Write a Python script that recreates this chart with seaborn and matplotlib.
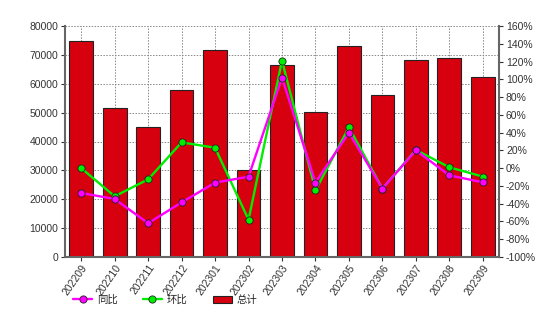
import matplotlib
matplotlib.use("Agg")
import matplotlib.pyplot as plt
import seaborn as sns
import pandas as pd
from matplotlib.lines import Line2D
from matplotlib.patches import Patch

months = ["202209", "202210", "202211", "202212", "202301", "202302", "202303",
          "202304", "202305", "202306", "202307", "202308", "202309"]
total = [74700, 51500, 45000, 58000, 71700, 30000, 66600, 50200, 73200, 56200, 68100, 69000, 62450]
yoy = [-28, -34.7, -62, -38.5, -16.3, -9.6, 102, -16.3, 40, -23, 20, -8, -16]
mom = [0, -31.7, -12.6, 29, 23, -58, 121, -25, 46, -23, 20.5, 1, -9.5]

sns.set_theme(style="white")
plt.rcParams['font.family'] = ['Liberation Sans', 'Noto Sans CJK SC', 'DejaVu Sans']

df = pd.DataFrame({"month": months, "total": total, "yoy": yoy, "mom": mom})

fig = plt.figure(figsize=(5.56, 3.23), dpi=100)
ax = fig.add_axes([65/556, 1-257/323, (499-65)/556, (257-26)/323])

sns.barplot(data=df, x="month", y="total", ax=ax, color="#D7000F", width=0.71,
            edgecolor="#222222", linewidth=0.8, saturation=1, zorder=2)
ax.set_ylim(0, 80000)
ax.set_xlim(-0.485, len(months) - 0.515)
ax.set_yticks(range(0, 80001, 10000))
ax.set_xlabel("")
ax.set_ylabel("")
ax.grid(True, color="#888888", linestyle=(0, (1.5, 1.5)), linewidth=0.7, zorder=0)
ax.set_axisbelow(True)

ax2 = ax.twinx()
x = list(range(len(months)))
lw, ms = 1.7, 5.2
ax2.plot(x, mom, color="#00EE00", linewidth=lw, marker="o", markersize=ms,
         markerfacecolor="#00EE00", markeredgecolor="#222222", markeredgewidth=0.6, zorder=3)
ax2.plot(x, yoy, color="#FF00FF", linewidth=lw, marker="o", markersize=ms,
         markerfacecolor="#FF00FF", markeredgecolor="#222222", markeredgewidth=0.6, zorder=4)
ax2.set_ylim(-100, 160)
ax2.set_yticks(range(-100, 161, 20))
ax2.set_yticklabels([f"{v}%" for v in range(-100, 161, 20)])

for a in (ax, ax2):
    for s in a.spines.values():
        s.set_visible(False)
ax.spines['left'].set_visible(True)
ax.spines['bottom'].set_visible(True)
ax2.spines['right'].set_visible(True)
for s in (ax.spines['left'], ax.spines['bottom'], ax2.spines['right']):
    s.set_color("#666666")
    s.set_linewidth(1.5)

ax.tick_params(axis='y', labelsize=7.5, colors="#333333", length=3, width=0.8, left=True, pad=2)
ax.tick_params(axis='x', labelsize=7.5, colors="#333333", length=3, width=0.8, bottom=True, pad=1)
ax2.tick_params(axis='y', labelsize=7.5, colors="#333333", length=3, width=0.8, right=True, pad=2)
for lab in ax.get_xticklabels():
    lab.set_rotation(55)
    lab.set_ha("right")
    lab.set_rotation_mode("anchor")

handles = [
    Line2D([0], [0], color="#FF00FF", linewidth=lw, marker="o", markersize=ms,
           markerfacecolor="#FF00FF", markeredgecolor="#222222", markeredgewidth=0.6),
    Line2D([0], [0], color="#00EE00", linewidth=lw, marker="o", markersize=ms,
           markerfacecolor="#00EE00", markeredgecolor="#222222", markeredgewidth=0.6),
    Patch(facecolor="#D7000F", edgecolor="#222222", linewidth=0.8),
]
fig.legend(handles, ["同比", "环比", "总计"], loc="center left", bbox_to_anchor=(64/556, 1-300/323),
           ncol=3, frameon=False, handlelength=1.8, handletextpad=0.5,
           columnspacing=2.4, prop={'family': ['Noto Sans CJK SC', 'DejaVu Sans'], 'size': 7.5})

fig.savefig("out.png", dpi=100)
